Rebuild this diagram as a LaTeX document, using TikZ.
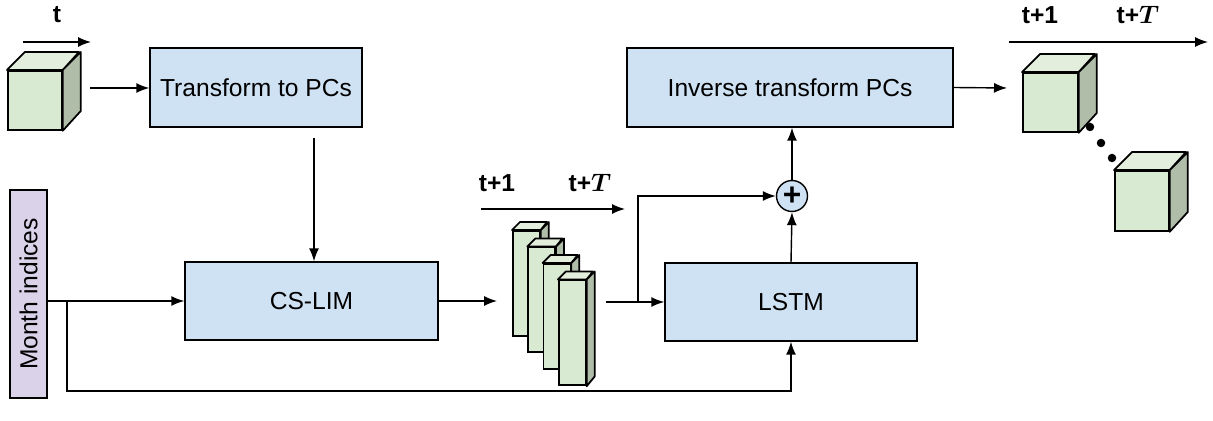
\documentclass[tikz,border=0pt]{standalone}
\usepackage{amsmath}
\usepackage{bm}
\usepackage{fontspec}
\setmainfont{Liberation Sans}
\usetikzlibrary{positioning,calc,arrows.meta}
\definecolor{boxblue}{HTML}{CFE2F3}
\definecolor{monthpurple}{HTML}{D9D2E9}
\definecolor{cubefront}{HTML}{D9EAD3}
\definecolor{cubetop}{HTML}{E3EEDD}
\definecolor{cubeside}{HTML}{B0BDA8}
\newcommand{\lbl}{\fontsize{14}{16}\selectfont}
\tikzstyle{box} = [draw, fill=boxblue, line width=0.8pt, inner sep=0pt, font=\lbl]
\tikzstyle{face} = [draw, fill=cubefront, line width=1pt, inner sep=0pt]
\tikzstyle{cubeedge} = [line width=1pt, line join=round]
\tikzstyle{arrow} = [line width=0.8pt, -{Latex[length=2.6mm,width=2mm]}]
\tikzstyle{tlabel} = [font=\lbl\bfseries, inner sep=0pt]
% name, x, y (front top left), width, height, depth -- all in px
\newcommand{\drawcube}[6]{%
  \node[face, minimum width=#4*0.02cm, minimum height=#5*0.02cm, anchor=north west] (#1) at (#2,#3) {};
  \draw[cubeedge, fill=cubetop] (#1.north west) -- ++(#6,-#6) -- ++(#4,0) -- (#1.north east) -- cycle;
  \draw[cubeedge, fill=cubeside] (#1.north east) -- ++(#6,-#6) -- ++(0,#5) -- (#1.south east) -- cycle;
}
\begin{document}
\begin{tikzpicture}[x=0.02cm, y=-0.02cm]
  \useasboundingbox (0,0) rectangle (1213,421);

  % boxes
  \node[box, minimum width=4.24cm, minimum height=1.58cm] (trans) at (256,87.5) {Transform to PCs};
  \node[box, minimum width=6.52cm, minimum height=1.58cm] (inv) at (790,87.5) {Inverse transform PCs};
  \node[box, minimum width=5.06cm, minimum height=1.56cm] (cslim) at (311.5,301) {CS-LIM};
  \node[box, minimum width=5.04cm, minimum height=1.56cm] (lstm) at (791,302) {LSTM};
  \node[box, fill=monthpurple, rotate=90, minimum width=4.16cm, minimum height=0.74cm] (month) at (28.5,294) {Month indices};
  \node[box, circle, minimum size=0.62cm, font=\fontsize{18}{18}\selectfont\bfseries] (plus) at (792,196) {+};

  % cubes
  \drawcube{cin}{7}{70}{54}{59}{18}
  \drawcube{cout1}{1022}{72}{55}{59}{18}
  \drawcube{cout2}{1114}{170}{54}{60}{18}
  \node[circle, fill, inner sep=0pt, minimum size=0.17cm] (d1) at (1090,127) {};
  \node[circle, fill, inner sep=0pt, minimum size=0.17cm] (d2) at (1101,143) {};
  \node[circle, fill, inner sep=0pt, minimum size=0.17cm] (d3) at (1112,158) {};

  % stack of forecasts
  \foreach \i in {0,...,3}{
    \drawcube{b\i}{512+15.3*\i}{230+16.5*\i}{27}{105}{8}
  }

  % time labels
  \node[tlabel] (tin) at (57,15) {t};
  \node[tlabel] (tm1) at (497,183) {t+1};
  \node[tlabel] (tmT) at (590,183) {t+$\bm{T}$};
  \node[tlabel] (to1) at (1040,15) {t+1};
  \node[tlabel] (toT) at (1138,15) {t+$\bm{T}$};
  \coordinate (tina) at (23,42);   \coordinate (tinb) at (91,42);
  \coordinate (tma) at (481,209);  \coordinate (tmb) at (625,209);
  \coordinate (toa) at (1009,42);  \coordinate (tob) at (1208,42);
  \draw[arrow] (tina) -- (tinb);
  \draw[arrow] (tma) -- (tmb);
  \draw[arrow] (toa) -- (tob);

  % connectors
  \coordinate (cinout) at (90,88);
  \draw[arrow] (cinout) -- (cinout -| trans.west);
  \coordinate (tdown) at (314,138);
  \draw[arrow] (tdown) -- (tdown |- cslim.north);
  \draw[arrow] (month.south |- cslim.west) -- (cslim.west);
  \coordinate (msplit) at (67,301);
  \draw[arrow] (msplit) -- (67,391) -| (lstm.south);
  \draw[arrow] (cslim.east) -- ([xshift=-0.3cm]b0.west |- cslim.east);
  \coordinate (sout) at (606,302);
  \draw[arrow] (sout) -- (sout -| lstm.west);
  \coordinate (ssplit) at (638,302);
  \draw[arrow] (ssplit) |- (plus.west);
  \draw[arrow] (lstm.north) -- (plus.south);
  \draw[arrow] (plus.north) -- (plus.north |- inv.south);
  \coordinate (invin) at (1007,88);
  \draw[arrow] (inv.east) -- (invin);
\end{tikzpicture}
\end{document}
